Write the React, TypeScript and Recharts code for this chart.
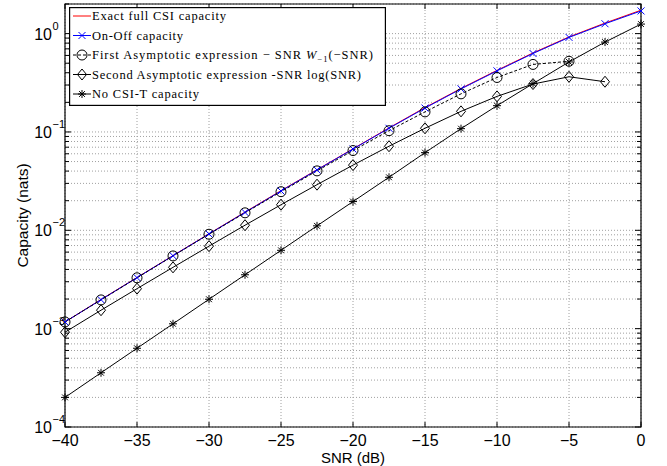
import React from "react"
import {
    LineChart,
    Line,
    XAxis,
    YAxis,
    CartesianGrid,
    ReferenceArea,
    Legend,
} from "recharts"

// SNR points (dB)
const snr = [-40, -37.5, -35, -32.5, -30, -27.5, -25, -22.5, -20, -17.5, -15, -12.5, -10, -7.5, -5, -2.5, 0]

// capacities (nats)
const exactCsi = [0.00117, 0.00198, 0.00331, 0.00553, 0.00922, 0.0153, 0.0253, 0.0413, 0.0674, 0.11, 0.177, 0.277, 0.423, 0.636, 0.925, 1.28, 1.73]
const onOff = [0.00117, 0.00197, 0.0033, 0.00551, 0.00918, 0.0152, 0.0251, 0.0411, 0.067, 0.109, 0.175, 0.274, 0.418, 0.628, 0.915, 1.26, 1.7]
const firstAsym = [0.00117, 0.00196, 0.00329, 0.00549, 0.00912, 0.01506, 0.0247, 0.0402, 0.0647, 0.103, 0.16, 0.244, 0.358, 0.486, 0.523, null, null]
const secondAsym = [0.00092, 0.00154, 0.00255, 0.0042, 0.0069, 0.01126, 0.0182, 0.0291, 0.046, 0.0716, 0.109, 0.162, 0.23, 0.307, 0.364, 0.324, null]
const noCsiT = [0.0002, 0.000356, 0.000632, 0.00112, 0.00199, 0.00353, 0.00626, 0.0111, 0.0196, 0.0346, 0.0616, 0.108, 0.185, 0.31, 0.515, 0.82, 1.25]

const xTicks = [-40, -35, -30, -25, -20, -15, -10, -5, 0]
const yDecades = [1e-4, 1e-3, 1e-2, 1e-1, 1]
const yMinorSteps = [2, 3, 4, 5, 6, 7, 8, 9]

const legendLabels = [
    "Exact full CSI capacity",
    "On-Off capacity",
    "First Asymptotic expression \u2212 SNR ",
    "Second Asymptotic expression -SNR log(SNR)",
    "No CSI-T capacity",
]
const legendWidths = [134, 91, 281, 269, 107]

const data = snr.map((s, i) => ({
    snr: s,
    exact: exactCsi[i],
    onoff: onOff[i],
    first: firstAsym[i],
    second: secondAsym[i],
    nocsit: noCsiT[i],
}))

const yTicks: number[] = []
yDecades.forEach((d, i) => {
    yTicks.push(d)
    if (i < yDecades.length - 1) yMinorSteps.forEach((m) => yTicks.push(m * d))
})
yTicks.push(2)

const W = 667
const H = 466
const PLOT_LEFT = 65
const PLOT_RIGHT = 641
const PLOT_TOP = 4
const PLOT_BOTTOM = 427
const sans = { fontFamily: "'Liberation Sans', Arial, Helvetica, sans-serif" }
const serif = { fontFamily: "'Liberation Serif', 'Times New Roman', serif" }

function marker(kind: string, cx: number, cy: number, color: string, key?: string) {
    if (cx == null || cy == null || isNaN(cx) || isNaN(cy)) return <g key={key} />
    if (kind === "x") {
        const r = 3.5
        return (
            <g key={key} stroke={color} strokeWidth={1}>
                <line x1={cx - r} y1={cy - r} x2={cx + r} y2={cy + r} />
                <line x1={cx - r} y1={cy + r} x2={cx + r} y2={cy - r} />
            </g>
        )
    }
    if (kind === "circle") {
        return <circle key={key} cx={cx} cy={cy} r={5} fill="none" stroke={color} strokeWidth={1} />
    }
    if (kind === "diamond") {
        return (
            <path
                key={key}
                d={`M${cx},${cy - 5.5}L${cx + 4.5},${cy}L${cx},${cy + 5.5}L${cx - 4.5},${cy}Z`}
                fill="none"
                stroke={color}
                strokeWidth={1}
            />
        )
    }
    if (kind === "star") {
        const r = 4
        const d = 2.9
        return (
            <g key={key} stroke={color} strokeWidth={1}>
                <line x1={cx - r} y1={cy} x2={cx + r} y2={cy} />
                <line x1={cx} y1={cy - r} x2={cx} y2={cy + r} />
                <line x1={cx - d} y1={cy - d} x2={cx + d} y2={cy + d} />
                <line x1={cx - d} y1={cy + d} x2={cx + d} y2={cy - d} />
            </g>
        )
    }
    return <g key={key} />
}

const dotFor = (kind: string, color: string) => (p: any) =>
    marker(kind, p.cx, p.cy, color, `${kind}-${p.index}`)

function XTick(props: any) {
    const { x, payload } = props
    const v = payload.value
    const label = v < 0 ? `\u2212${-v}` : `${v}`
    return (
        <g>
            <line x1={x} x2={x} y1={PLOT_BOTTOM} y2={PLOT_BOTTOM - 5} stroke="#000" />
            <line x1={x} x2={x} y1={PLOT_TOP} y2={PLOT_TOP + 5} stroke="#000" />
            <text x={x} y={PLOT_BOTTOM + 19} textAnchor="middle" fontSize={16} style={sans} fill="#000">
                {label}
            </text>
        </g>
    )
}

function YTick(props: any) {
    const { y, payload } = props
    const v = payload.value
    const lg = Math.log10(v)
    const exp = Math.round(lg)
    const major = Math.abs(lg - exp) < 1e-6
    const len = major ? 6 : 4
    return (
        <g>
            <line x1={PLOT_LEFT} x2={PLOT_LEFT + len} y1={y} y2={y} stroke="#000" />
            <line x1={PLOT_RIGHT - len} x2={PLOT_RIGHT} y1={y} y2={y} stroke="#000" />
            {major && (
                <text x={52} y={y + 6} textAnchor="end" fontSize={16} style={sans} fill="#000">
                    10
                </text>
            )}
            {major && (
                <text x={52.5} y={y - 4} fontSize={11} style={sans} fill="#000">
                    {exp < 0 ? `\u2212${-exp}` : `${exp}`}
                </text>
            )}
        </g>
    )
}

function LegendBox() {
    const kinds = ["none", "x", "circle", "diamond", "star"]
    const colors = ["#ff0000", "#0000ff", "#000", "#000", "#000"]
    const rowY = [9, 28.5, 48, 67.5, 87]
    return (
        <svg width={317} height={99} style={{ display: "block" }}>
            <rect x={0.6} y={0.6} width={315.8} height={97.8} fill="#fff" stroke="#000" strokeWidth={1.2} />
            {legendLabels.map((lab, i) => (
                <g key={i}>
                    <line
                        x1={4}
                        x2={22}
                        y1={rowY[i]}
                        y2={rowY[i]}
                        stroke={colors[i]}
                        strokeWidth={1}
                        strokeDasharray={i === 2 ? "3 2" : undefined}
                    />
                    {marker(kinds[i], 13, rowY[i], colors[i])}
                    <text
                        x={23}
                        y={rowY[i] + 4}
                        fontSize={12.5}
                        style={serif}
                        fill="#000"
                        textLength={legendWidths[i]}
                        lengthAdjust="spacing"
                    >
                        {lab}
                        {i === 2 && (
                            <>
                                <tspan fontStyle="italic">W</tspan>
                                <tspan fontSize={8.5} dy={3}>{"\u22121"}</tspan>
                                <tspan dy={-3}>{"(\u2212SNR)"}</tspan>
                            </>
                        )}
                    </text>
                </g>
            ))}
        </svg>
    )
}

export default function App() {
    return (
        <div style={{ position: "absolute", left: 0, top: 0, width: W, height: H, background: "#fff" }}>
            <LineChart
                width={W}
                height={H}
                data={data}
                margin={{ top: PLOT_TOP, right: W - PLOT_RIGHT, bottom: 0, left: 0 }}
            >
                <CartesianGrid stroke="#a0a0a0" strokeDasharray="1 2" />
                <XAxis
                    dataKey="snr"
                    type="number"
                    domain={[-40, 0]}
                    ticks={xTicks}
                    interval={0}
                    height={H - PLOT_BOTTOM}
                    tickLine={false}
                    axisLine={false}
                    tick={<XTick />}
                    label={() => (
                        <text
                            x={(PLOT_LEFT + PLOT_RIGHT) / 2}
                            y={463}
                            textAnchor="middle"
                            fontSize={15}
                            style={sans}
                            fill="#000"
                        >
                            SNR (dB)
                        </text>
                    )}
                />
                <YAxis
                    type="number"
                    scale="log"
                    domain={[1e-4, 2]}
                    allowDataOverflow
                    ticks={yTicks}
                    interval={0}
                    width={PLOT_LEFT}
                    tickLine={false}
                    axisLine={false}
                    tick={<YTick />}
                    label={() => (
                        <text
                            x={28}
                            y={(PLOT_TOP + PLOT_BOTTOM) / 2}
                            transform={`rotate(-90 28 ${(PLOT_TOP + PLOT_BOTTOM) / 2})`}
                            textAnchor="middle"
                            fontSize={15.5}
                            style={sans}
                            fill="#000"
                        >
                            Capacity (nats)
                        </text>
                    )}
                />
                <ReferenceArea
                    x1={-40}
                    x2={0}
                    y1={1e-4}
                    y2={2}
                    fill="none"
                    stroke="#000"
                    strokeWidth={1.2}
                    ifOverflow="visible"
                />
                <Line dataKey="exact" stroke="#ff0000" strokeWidth={1} dot={false} isAnimationActive={false} />
                <Line dataKey="onoff" stroke="#0000ff" strokeWidth={1} dot={dotFor("x", "#0000ff")} isAnimationActive={false} />
                <Line dataKey="first" stroke="#000" strokeWidth={1} strokeDasharray="3 2" dot={dotFor("circle", "#000")} isAnimationActive={false} />
                <Line dataKey="second" stroke="#000" strokeWidth={1} dot={dotFor("diamond", "#000")} isAnimationActive={false} />
                <Line dataKey="nocsit" stroke="#000" strokeWidth={1} dot={dotFor("star", "#000")} isAnimationActive={false} />
                <Legend
                    layout="vertical"
                    align="center"
                    verticalAlign="middle"
                    wrapperStyle={{ top: 7, left: 69, width: 317, height: 99 }}
                    content={() => <LegendBox />}
                />
            </LineChart>
        </div>
    )
}
